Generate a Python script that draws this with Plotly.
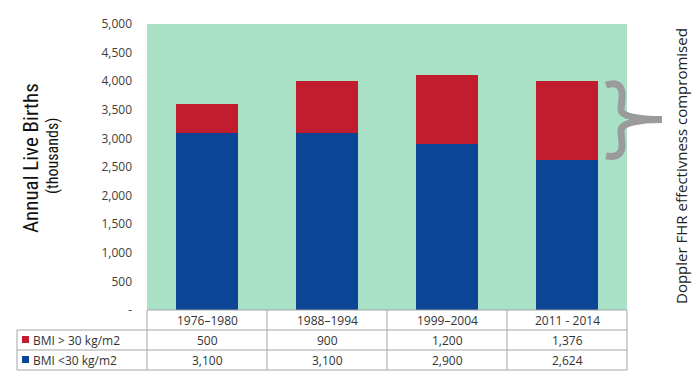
import plotly.graph_objects as go

periods = ["1976–1980", "1988–1994", "1999–2004", "2011 - 2014"]
bmi_over = [500, 900, 1200, 1376]
bmi_under = [3100, 3100, 2900, 2624]
series_names = ["BMI > 30 kg/m2", "BMI <30 kg/m2"]
ytick_vals = [0, 500, 1000, 1500, 2000, 2500, 3000, 3500, 4000, 4500, 5000]
ytick_text = ["-" if v == 0 else f"{v:,}" for v in ytick_vals]
brace_top = bmi_over[-1] + bmi_under[-1]
brace_bottom = bmi_under[-1]

RED = "#C21D2E"
BLUE = "#0D4596"
GREEN = "#A9E1C7"
GRID = "#A6A6A6"
FONT = "Segoe UI, Open Sans, Noto Sans, sans-serif"
NARROW = "Liberation Sans Narrow, Arial Narrow, Roboto Condensed, sans-serif"

W, H = 700, 387
L, R, T, B = 147, 627, 24, 310
pw, ph = R - L, B - T

def px(x):
    return (x - L) / pw

def py(y):
    return (B - y) / ph

fig = go.Figure()
fig.add_trace(go.Bar(x=periods, y=bmi_under, name=series_names[1], marker_color=BLUE,
                     marker_line_width=0))
fig.add_trace(go.Bar(x=periods, y=bmi_over, name=series_names[0], marker_color=RED,
                     marker_line_width=0))

shapes = []
def line(x0, y0, x1, y1):
    shapes.append(dict(type="line", xref="paper", yref="paper",
                       x0=px(x0), y0=py(y0), x1=px(x1), y1=py(y1),
                       line=dict(color=GRID, width=1)))

# table lines
line(L, 310, R, 310)
for yy in (330, 350, 370):
    line(17, yy, R, yy)
line(17, 330, 17, 370)
for i in range(len(periods) + 1):
    xx = L + i * pw / len(periods)
    line(xx, 310, xx, 370)

# legend squares
for col, y0 in ((RED, 336), (BLUE, 356)):
    shapes.append(dict(type="rect", xref="paper", yref="paper",
                       x0=px(22), x1=px(29), y0=py(y0), y1=py(y0 + 7),
                       fillcolor=col, line=dict(width=0)))

# brace (paper x, data y)
def dy(pix):
    return brace_top - (pix - 82) * (brace_top - brace_bottom) / (162 - 82)

pts = [
    ("M", [(606, 86)]),
    ("C", [(620, 81), (623, 90), (622, 100)]),
    ("L", [(621, 110)]),
    ("C", [(620, 118), (640, 121), (662, 121)]),
    ("C", [(640, 121), (620, 124), (621, 133)]),
    ("L", [(622, 145)]),
    ("C", [(623, 155), (618, 160), (606, 158)]),
]
path = " ".join(cmd + " " + " ".join(f"{px(a):.4f},{dy(b):.1f}" for a, b in p) for cmd, p in pts)
shapes.append(dict(type="path", xref="paper", yref="y", path=path,
                   line=dict(color="#9B9B9B", width=7)))

annotations = []
def txt(x, y, text, xref="x", size=12, xanchor="center", **kw):
    annotations.append(dict(x=x, y=y, xref=xref, yref="paper", text=text, showarrow=False,
                            xanchor=xanchor, yanchor="middle",
                            font=dict(family=FONT, size=size, color="#333333"), **kw))

for i, p in enumerate(periods):
    txt(p, py(320), p)
    txt(p, py(340), f"{bmi_over[i]:,}")
    txt(p, py(360), f"{bmi_under[i]:,}")
txt(px(31), py(340), series_names[0], xref="paper", xanchor="left")
txt(px(31), py(360), series_names[1], xref="paper", xanchor="left")

def vtext(x, y, text, family, size, color):
    annotations.append(dict(x=px(x), y=py(y), xref="paper", yref="paper", text=text,
                            showarrow=False, textangle=-90, xanchor="center", yanchor="middle",
                            font=dict(family=family, size=size, color=color)))

vtext(31, 158, "Annual Live Births", NARROW, 21, "#111111")
vtext(52, 156, "(thousands)", NARROW, 16, "#111111")
vtext(681, 166, "Doppler FHR effectivness compromised", FONT, 15, "#222222")

fig.update_layout(
    width=W, height=H, margin=dict(l=L, r=W - R, t=T, b=H - B),
    paper_bgcolor="white", plot_bgcolor=GREEN,
    barmode="stack", bargap=0.49, showlegend=False,
    shapes=shapes, annotations=annotations,
    xaxis=dict(showticklabels=False, showgrid=False, zeroline=False, showline=False),
    yaxis=dict(range=[0, 5000], tickvals=ytick_vals, ticktext=ytick_text, showgrid=False,
               zeroline=False, showline=False, ticks="", ticklabelstandoff=14,
               tickfont=dict(family=FONT, size=12, color="#404040")),
)
fig.write_html("out.html", config={"displayModeBar": False},
               post_script="document.body.style.margin='0';document.body.style.overflow='hidden';")
